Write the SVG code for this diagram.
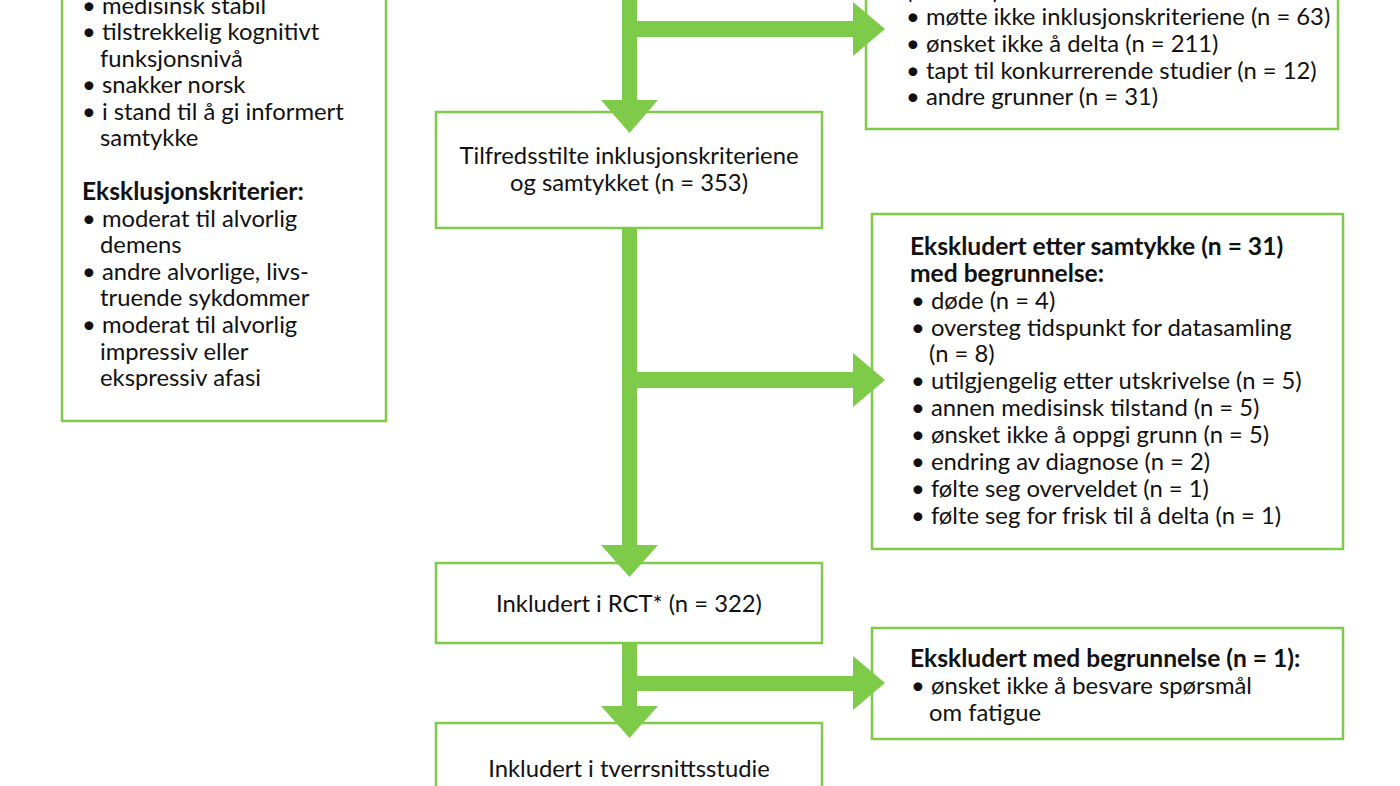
<svg xmlns="http://www.w3.org/2000/svg" width="1400" height="786" viewBox="0 0 1400 786">
<style>
.box{fill:#fff;stroke:#7DCB48;stroke-width:2.5}
.arr{fill:#7DCB48}
text{font-family:Lato,"Liberation Sans",sans-serif;font-size:23.8px;fill:#111}
.b{font-weight:700;font-size:24.6px}
.c{text-anchor:middle}
</style>
<rect width="1400" height="786" fill="#fff"/>
<g id="inclusion-criteria">
<rect class="box" x="62" y="-20" width="324" height="441"/>
<text x="82" y="14">• medisinsk stabil</text>
<text x="82" y="40">• tilstrekkelig kognitivt</text>
<text x="100" y="67">funksjonsnivå</text>
<text x="82" y="93">• snakker norsk</text>
<text x="82" y="120">• i stand til å gi informert</text>
<text x="100" y="146">samtykke</text>
<text class="b" x="82" y="200">Eksklusjonskriterier:</text>
<text x="82" y="227">• moderat til alvorlig</text>
<text x="100" y="253">demens</text>
<text x="82" y="280">• andre alvorlige, livs-</text>
<text x="100" y="306">truende sykdommer</text>
<text x="82" y="333">• moderat til alvorlig</text>
<text x="100" y="360">impressiv eller</text>
<text x="100" y="386">ekspressiv afasi</text>
</g>
<g id="excluded-before">
<rect class="box" x="866" y="-20" width="472" height="149"/>
<text x="906" y="-1">(n = 317):</text>
<text x="906" y="25">• møtte ikke inklusjonskriteriene (n = 63)</text>
<text x="906" y="52">• ønsket ikke å delta (n = 211)</text>
<text x="906" y="79">• tapt til konkurrerende studier (n = 12)</text>
<text x="906" y="105">• andre grunner (n = 31)</text>
</g>
<g id="satisfied">
<rect class="box" x="436" y="112" width="386" height="116"/>
<text class="c" x="629" y="164">Tilfredsstilte inklusjonskriteriene</text>
<text class="c" x="629" y="191">og samtykket (n = 353)</text>
</g>
<g id="excluded-after-consent">
<rect class="box" x="872" y="214" width="471" height="335"/>
<text class="b" x="910" y="255">Ekskludert etter samtykke (n = 31)</text>
<text class="b" x="910" y="282">med begrunnelse:</text>
<text x="911" y="309">• døde (n = 4)</text>
<text x="911" y="336">• oversteg tidspunkt for datasamling</text>
<text x="929" y="362">(n = 8)</text>
<text x="911" y="389">• utilgjengelig etter utskrivelse (n = 5)</text>
<text x="911" y="416">• annen medisinsk tilstand (n = 5)</text>
<text x="911" y="443">• ønsket ikke å oppgi grunn (n = 5)</text>
<text x="911" y="470">• endring av diagnose (n = 2)</text>
<text x="911" y="497">• følte seg overveldet (n = 1)</text>
<text x="911" y="524">• følte seg for frisk til å delta (n = 1)</text>
</g>
<g id="rct">
<rect class="box" x="436" y="563" width="386" height="80"/>
<text class="c" x="629" y="612">Inkludert i RCT* (n = 322)</text>
</g>
<g id="excluded-fatigue">
<rect class="box" x="872" y="628" width="471" height="111"/>
<text class="b" x="910" y="667">Ekskludert med begrunnelse (n = 1):</text>
<text x="911" y="694">• ønsket ikke å besvare spørsmål</text>
<text x="929" y="721">om fatigue</text>
</g>
<g id="cross-sectional">
<rect class="box" x="436" y="723" width="386" height="100"/>
<text class="c" x="629" y="777">Inkludert i tverrsnittsstudie</text>
<text class="c" x="629" y="804">(n = 321)</text>
</g>
<g id="connectors">
<rect class="arr" x="622" y="-10" width="15" height="111"/>
<rect class="arr" x="636" y="21" width="218" height="16"/>
<polygon class="arr" points="853,2 885,29 853,56"/>
<polygon class="arr" points="601,100 658,100 629.5,133"/>
<rect class="arr" x="622" y="229" width="15" height="317"/>
<rect class="arr" x="636" y="372" width="218" height="16"/>
<polygon class="arr" points="853,353 885,380 853,407"/>
<polygon class="arr" points="601,545 658,545 629.5,577"/>
<rect class="arr" x="622" y="644" width="15" height="63"/>
<rect class="arr" x="636" y="676" width="218" height="15"/>
<polygon class="arr" points="853,656 885,683 853,710"/>
<polygon class="arr" points="601,706 658,706 629.5,738"/>
</g>
</svg>
